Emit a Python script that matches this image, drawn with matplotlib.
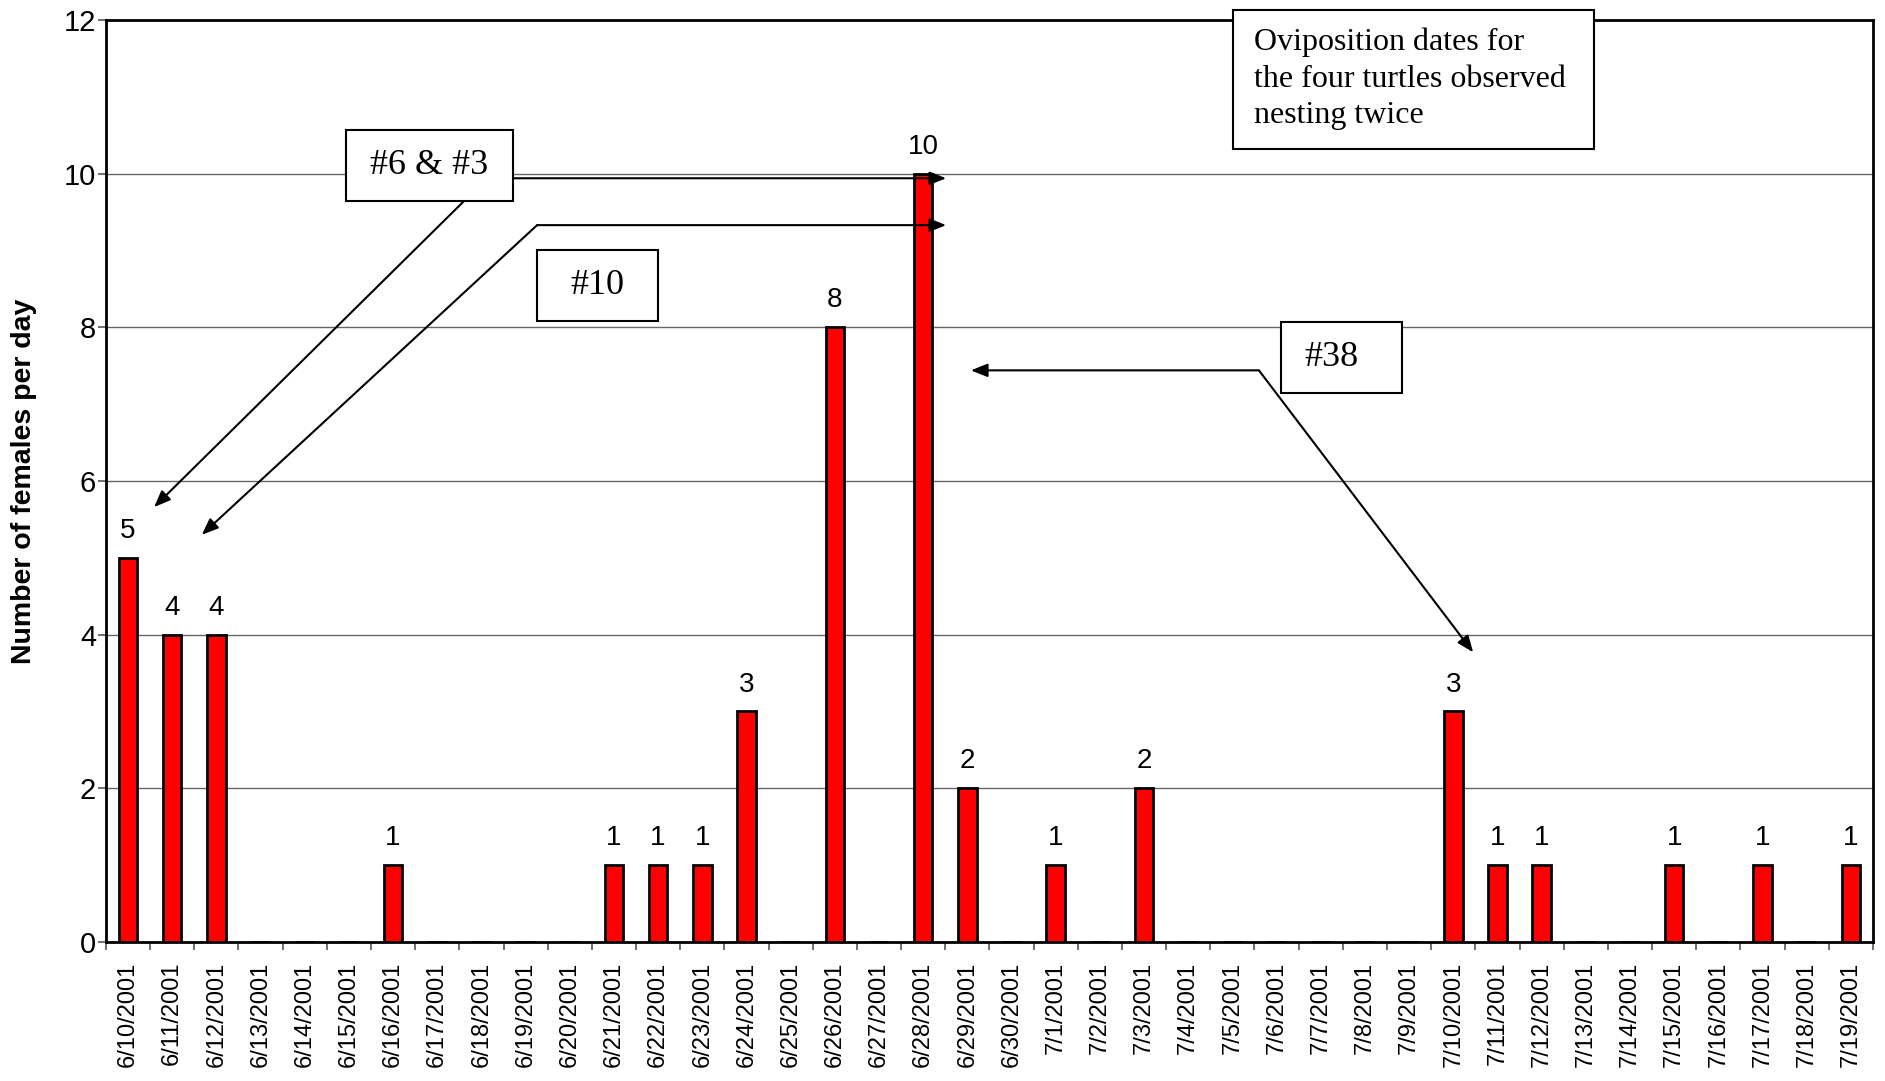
import matplotlib
matplotlib.use("Agg")
import matplotlib.pyplot as plt
from matplotlib.patches import Rectangle
import numpy as np
import pandas as pd

plt.rcParams['font.family'] = ['Liberation Sans', 'DejaVu Sans']

# nesting dates, 6/10/2001 .. 7/19/2001
dates = pd.date_range('2001-06-10', '2001-07-19')
date_labels = ['%d/%d/%d' % (d.month, d.day, d.year) for d in dates]

females = [5, 4, 4, 0, 0, 0, 1, 0, 0, 0,
           0, 1, 1, 1, 3, 0, 8, 0, 10, 2,
           0, 1, 0, 2, 0, 0, 0, 0, 0, 0,
           3, 1, 1, 0, 0, 1, 0, 1, 0, 1]

fig = plt.figure(figsize=(18.85, 10.81), dpi=100)
ax = fig.add_axes([0.0562, 0.1286, 0.9374, 0.8529])

x = np.arange(len(females))
ax.bar(x, females, width=0.42, color='#ff0000', edgecolor='black', linewidth=2, zorder=3)

# value labels on the non-empty days
for xi, v in zip(x, females):
    if v > 0:
        ax.annotate(str(v), (xi, v), xytext=(0, 10), textcoords='offset points',
                    ha='center', va='bottom', fontsize=20)

ax.set_xlim(-0.5, len(females) - 0.5)
ax.set_ylim(0, 12)
ax.set_yticks(range(0, 13, 2))
ax.tick_params(axis='y', labelsize=21, length=6, width=1.2, pad=1, color='#555555')
ax.set_xticks(x)
ax.set_xticklabels(date_labels, rotation=90, fontsize=17)
ax.set_xticks(np.arange(-0.5, len(females), 1), minor=True)
ax.tick_params(axis='x', which='major', length=0, pad=14)
ax.tick_params(axis='x', which='minor', length=6, width=1.2, color='#555555')

ax.yaxis.grid(True, color='#666666', linewidth=1, zorder=0)
ax.set_axisbelow(True)
for s in ax.spines.values():
    s.set_linewidth(2)
    s.set_color('black')

ax.set_ylabel('Number of females per day', fontsize=20.5, fontweight='bold')
ax.yaxis.set_label_coords(-0.039, 0.5)

# annotation boxes (Times-like text)
serif = ['Liberation Serif', 'DejaVu Serif']
boxes = [
    (4.93, 9.64, 3.78, 0.93, '#6 & #3'),
    (9.26, 8.08, 2.73, 0.93, '#10'),
    (26.10, 7.15, 2.74, 0.92, '#38'),
]
for bx, by, bw, bh, txt in boxes:
    ax.add_patch(Rectangle((bx, by), bw, bh, facecolor='white', edgecolor='black',
                           linewidth=1.5, zorder=6, clip_on=False))
    cx = bx + bw / 2 if txt != '#38' else bx + bw / 2 - 0.22
    ax.text(cx, by + bh / 2, txt, ha='center', va='center', fontsize=26,
            family=serif, zorder=7)

ax.add_patch(Rectangle((25.01, 10.32), 8.17, 1.81, facecolor='white', edgecolor='black',
                       linewidth=1.5, zorder=6, clip_on=False))
ax.text(25.48, 11.90, 'Oviposition dates for\nthe four turtles observed\nnesting twice',
        ha='left', va='top', fontsize=23, family=serif, linespacing=1.34, zorder=7)

# arrows
arrow = dict(arrowstyle='-|>,head_length=1.0,head_width=0.4', color='black',
             lw=1.5, shrinkA=0, shrinkB=0)

ax.annotate('', xy=(0.59, 5.66), xytext=(7.60, 9.64), arrowprops=arrow, zorder=5)
ax.annotate('', xy=(18.52, 9.94), xytext=(8.71, 9.94), arrowprops=arrow, zorder=5)

ax.annotate('', xy=(1.67, 5.30), xytext=(9.26, 9.33), arrowprops=arrow, zorder=5)
ax.annotate('', xy=(18.52, 9.33), xytext=(9.26, 9.33), arrowprops=arrow, zorder=5)

ax.annotate('', xy=(19.08, 7.44), xytext=(25.60, 7.44), arrowprops=arrow, zorder=5)
ax.annotate('', xy=(30.45, 3.77), xytext=(25.60, 7.44), arrowprops=arrow, zorder=5)

fig.savefig('out.png', dpi=100)
